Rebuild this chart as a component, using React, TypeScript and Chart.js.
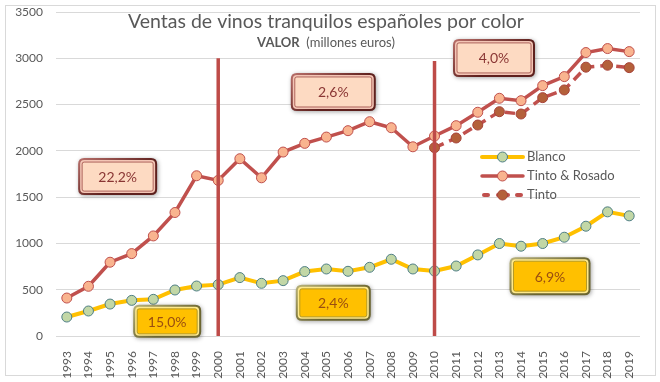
import React, { useEffect, useRef } from "react";
import { Chart, registerables } from "chart.js";

Chart.register(...registerables);

const years = ["1993","1994","1995","1996","1997","1998","1999","2000","2001","2002","2003","2004","2005","2006","2007","2008","2009","2010","2011","2012","2013","2014","2015","2016","2017","2018","2019"];
const blanco = [205,270,345,385,396,497,540,555,631,569,598,696,724,699,742,829,724,702,756,876,999,970,999,1067,1186,1341,1298];
const tintoRosado = [410,537,797,890,1081,1334,1731,1681,1915,1709,1987,2081,2149,2218,2315,2250,2044,2160,2272,2417,2568,2542,2705,2802,3062,3105,3072];
const tinto = [null,null,null,null,null,null,null,null,null,null,null,null,null,null,null,null,null,2034,2139,2279,2423,2398,2575,2658,2904,2925,2899];
const seriesNames = ["Blanco", "Tinto & Rosado", "Tinto"];
const dividerYears = ["2000", "2010"];
const dividerTops = [3000, 2970];
const growthLabels = ["22,2%", "2,6%", "4,0%", "15,0%", "2,4%", "6,9%"];
const growthKinds = ["red", "red", "red", "gold", "gold", "gold"];
const titleText = "Ventas de vinos tranquilos españoles por color";

// annotation placement (fractional category index, value, box size)
const growthAt = [
  { i: 2.35, v: 1722, w: 79, h: 37 },
  { i: 12.32, v: 2636, w: 85, h: 38 },
  { i: 19.75, v: 3004, w: 82, h: 38 },
  { i: 4.64, v: 158, w: 68, h: 33 },
  { i: 12.32, v: 358, w: 75, h: 36 },
  { i: 22.34, v: 646, w: 81, h: 38 },
];

const FONT = "Lato, 'Open Sans', sans-serif";
const RED = "#C0504D";
const GOLD = "#FFC000";

function rr(ctx: CanvasRenderingContext2D, x: number, y: number, w: number, h: number, r: number) {
  ctx.beginPath();
  ctx.moveTo(x + r, y);
  ctx.lineTo(x + w - r, y);
  ctx.quadraticCurveTo(x + w, y, x + w, y + r);
  ctx.lineTo(x + w, y + h - r);
  ctx.quadraticCurveTo(x + w, y + h, x + w - r, y + h);
  ctx.lineTo(x + r, y + h);
  ctx.quadraticCurveTo(x, y + h, x, y + h - r);
  ctx.lineTo(x, y + r);
  ctx.quadraticCurveTo(x, y, x + r, y);
  ctx.closePath();
}

function drawBox(ctx: CanvasRenderingContext2D, cx: number, cy: number, w: number, h: number, label: string, kind: string) {
  const x = cx - w / 2, y = cy - h / 2;
  const red = kind === "red";
  ctx.save();
  ctx.shadowColor = "rgba(0,0,0,0.35)";
  ctx.shadowBlur = 4;
  ctx.shadowOffsetX = 1;
  ctx.shadowOffsetY = 1;
  const g = ctx.createLinearGradient(x, y, x + w * 0.3, y + h);
  if (red) {
    g.addColorStop(0, "#B9706B");
    g.addColorStop(1, "#5E201D");
  } else {
    g.addColorStop(0, "#B8B27A");
    g.addColorStop(1, "#6B6530");
  }
  rr(ctx, x, y, w, h, 6);
  ctx.fillStyle = g;
  ctx.fill();
  ctx.restore();
  ctx.save();
  rr(ctx, x + 2, y + 2, w - 4, h - 4, 4);
  ctx.fillStyle = red ? "#F3C5B5" : "#FFE98A";
  ctx.fill();
  rr(ctx, x + 4, y + 4, w - 8, h - 8, 2);
  ctx.fillStyle = red ? "#FDDAC2" : GOLD;
  ctx.fill();
  ctx.strokeStyle = red ? "#9C4A45" : "#A08A20";
  ctx.lineWidth = 0.8;
  ctx.stroke();
  ctx.fillStyle = red ? "#8A3634" : "#9A4E10";
  ctx.font = `14px ${FONT}`;
  ctx.textAlign = "center";
  ctx.textBaseline = "middle";
  ctx.fillText(label, cx, cy + 1);
  ctx.restore();
}

const decorPlugin = {
  id: "decor",
  beforeDraw(chart: any) {
    const ctx = chart.ctx as CanvasRenderingContext2D;
    ctx.save();
    ctx.fillStyle = "#FFFFFF";
    ctx.fillRect(0, 0, chart.width, chart.height);
    ctx.strokeStyle = "#D9D9D9";
    ctx.lineWidth = 1;
    ctx.strokeRect(5.5, 5.5, 650, 370);
    ctx.restore();
  },
  afterDatasetsDraw(chart: any) {
    const ctx = chart.ctx as CanvasRenderingContext2D;
    const xs = chart.scales.x;
    const ys = chart.scales.y;
    const area = chart.chartArea;
    ctx.save();
    dividerYears.forEach((yr, k) => {
      const px = xs.getPixelForValue(years.indexOf(yr));
      ctx.beginPath();
      ctx.moveTo(px, ys.getPixelForValue(dividerTops[k]));
      ctx.lineTo(px, area.bottom);
      ctx.strokeStyle = "#BE4B48";
      ctx.lineWidth = 3.5;
      ctx.stroke();
    });
    ctx.fillStyle = "#595959";
    ctx.textAlign = "center";
    ctx.textBaseline = "alphabetic";
    ctx.font = `19.5px ${FONT}`;
    ctx.fillText(titleText, 326, 28);
    ctx.font = `bold 13px ${FONT}`;
    const a = "VALOR";
    const b = "  (millones euros)";
    const wa = ctx.measureText(a).width;
    ctx.font = `13px ${FONT}`;
    const wb = ctx.measureText(b).width;
    const sx = 326 - (wa + wb) / 2;
    ctx.textAlign = "left";
    ctx.font = `bold 13px ${FONT}`;
    ctx.fillText(a, sx, 47);
    ctx.font = `13px ${FONT}`;
    ctx.fillText(b, sx + wa, 47);
    growthAt.forEach((p, k) => {
      const cx = xs.getPixelForValue(p.i);
      const cy = ys.getPixelForValue(p.v);
      drawBox(ctx, cx, cy, p.w, p.h, growthLabels[k], growthKinds[k]);
    });
    const lx = area.right - 158;
    const rows = [157, 176, 195];
    const dsets = chart.data.datasets;
    rows.forEach((ry, k) => {
      const ds = dsets[k];
      ctx.save();
      if (ds.borderDash) {
        ctx.fillStyle = ds.borderColor;
        [[0, 8], [14, 14], [33, 8]].forEach(([s, l]) => {
          rr(ctx, lx + s, ry - 2, l, 4, 2);
          ctx.fill();
        });
      } else {
        ctx.beginPath();
        ctx.strokeStyle = ds.borderColor;
        ctx.lineWidth = ds.borderWidth;
        ctx.lineCap = "round";
        ctx.moveTo(lx, ry);
        ctx.lineTo(lx + 41, ry);
        ctx.stroke();
      }
      ctx.beginPath();
      ctx.arc(lx + 20.5, ry, 5, 0, Math.PI * 2);
      ctx.fillStyle = ds.pointBackgroundColor;
      ctx.fill();
      ctx.strokeStyle = ds.pointBorderColor;
      ctx.lineWidth = 1;
      ctx.stroke();
      ctx.fillStyle = "#595959";
      ctx.font = `13px ${FONT}`;
      ctx.textAlign = "left";
      ctx.textBaseline = "middle";
      ctx.fillText(seriesNames[k], lx + 45, ry);
      ctx.restore();
    });
    ctx.restore();
  },
};

export default function App() {
  const ref = useRef<HTMLCanvasElement>(null);
  useEffect(() => {
    if (!ref.current) return;
    const chart = new Chart(ref.current, {
      type: "line",
      data: {
        labels: years,
        datasets: [
          {
            label: seriesNames[0],
            data: blanco,
            borderColor: GOLD,
            borderWidth: 4,
            pointRadius: 5,
            pointBackgroundColor: "#C2D7A6",
            pointBorderColor: "#4F7F86",
            pointBorderWidth: 1,
            tension: 0,
          },
          {
            label: seriesNames[1],
            data: tintoRosado,
            borderColor: RED,
            borderWidth: 3.5,
            pointRadius: 5,
            pointBackgroundColor: "#F9B48F",
            pointBorderColor: RED,
            pointBorderWidth: 1,
            tension: 0,
          },
          {
            label: seriesNames[2],
            data: tinto as any,
            borderColor: RED,
            borderWidth: 3.5,
            borderDash: [10, 6],
            pointRadius: 5,
            pointBackgroundColor: "#B4603A",
            pointBorderColor: "#A8433A",
            pointBorderWidth: 1,
            tension: 0,
            spanGaps: false,
          },
        ],
      },
      options: {
        animation: false,
        responsive: false,
        layout: { padding: { left: 0, right: 20, top: 12, bottom: 0 } },
        plugins: { legend: { display: false }, title: { display: false }, tooltip: { enabled: false } },
        scales: {
          x: {
            offset: true,
            grid: { display: false },
            border: { display: false },
            ticks: {
              minRotation: 90,
              maxRotation: 90,
              padding: 7,
              color: "#595959",
              font: { family: FONT, size: 12 },
              autoSkip: false,
            },
            afterFit: (s: any) => { s.height = 46; },
          },
          y: {
            min: 0,
            max: 3500,
            grid: { color: "#D9D9D9", lineWidth: 1, drawTicks: false },
            border: { display: false },
            ticks: {
              stepSize: 500,
              padding: 13,
              color: "#595959",
              font: { family: FONT, size: 12 },
              callback: (v: any) => String(v),
            },
            afterFit: (s: any) => { s.width = 56; s.paddingTop = 0; s.paddingBottom = 0; },
          },
        },
      },
      plugins: [decorPlugin],
    });
    return () => chart.destroy();
  }, []);
  return (
    <div style={{ position: "absolute", left: 0, top: 0, width: 660, height: 382 }}>
      <canvas ref={ref} width={660} height={382} />
    </div>
  );
}
